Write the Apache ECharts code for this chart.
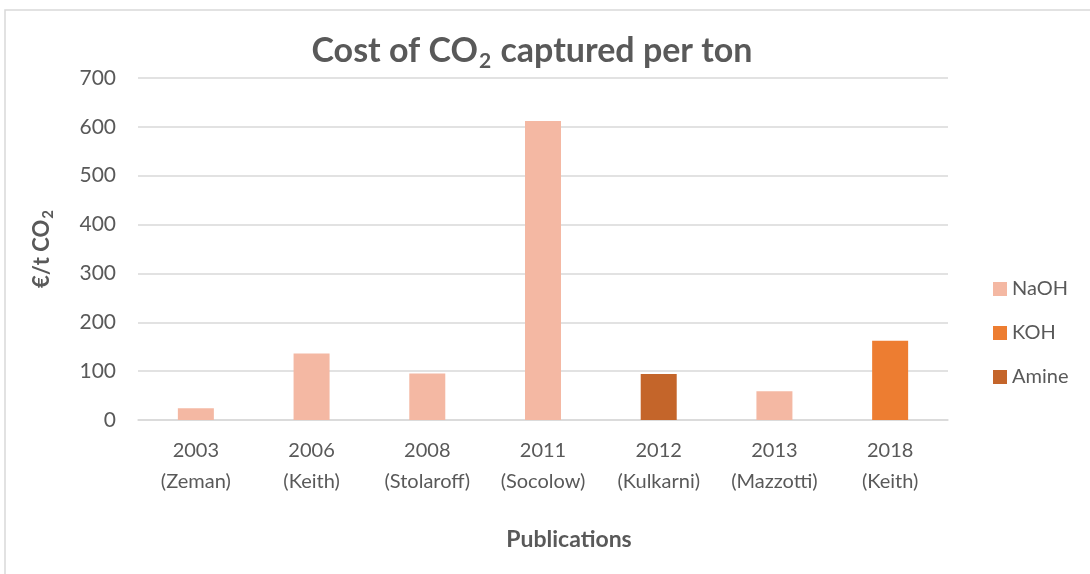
<!DOCTYPE html>
<html>
<head>
<meta charset="utf-8">
<script src="https://cdn.jsdelivr.net/npm/echarts@6/dist/echarts.min.js"></script>
<style>
  html, body { margin: 0; padding: 0; background: #ffffff; }
  #chart { width: 1090px; height: 574px; }
</style>
</head>
<body>
<div id="chart"></div>
<script>
// Publications (year + author) on the category axis
const categories = [
  '2003\n(Zeman)', '2006\n(Keith)', '2008\n(Stolaroff)', '2011\n(Socolow)',
  '2012\n(Kulkarni)', '2013\n(Mazzotti)', '2018\n(Keith)'
];
// Capture cost in €/t CO2, split by sorbent
const naohValues  = [24, 136, 95, 612, null, 59, null];
const kohValues   = [null, null, null, null, null, null, 162];
const amineValues = [null, null, null, null, 94, null, null];
const yTicks = { min: 0, max: 700, interval: 100 };

const textColor = '#595959';
const font = 'Lato, "Open Sans", sans-serif';

const chart = echarts.init(document.getElementById('chart'), null, { renderer: 'canvas' });

function barSeries(name, data, color) {
  return {
    name: name,
    type: 'bar',
    stack: 'cost',
    data: data,
    barWidth: 36,
    itemStyle: { color: color },
    emphasis: { disabled: true }
  };
}

chart.setOption({
  animation: false,
  backgroundColor: '#ffffff',
  textStyle: { fontFamily: font, color: textColor },
  graphic: [{
    type: 'rect',
    shape: { x: 5, y: 10, width: 1100, height: 580 },
    style: { fill: 'none', stroke: '#d9d9d9', lineWidth: 1.5 },
    silent: true
  }],
  title: {
    text: '{t|Cost of CO}{s|2}{t| captured per ton}',
    left: 527,
    top: 26,
    textAlign: 'center',
    textStyle: {
      rich: {
        t: { fontFamily: font, fontSize: 34, fontWeight: 'bold', color: textColor, lineHeight: 40 },
        s: { fontFamily: font, fontSize: 21, fontWeight: 'bold', color: textColor, lineHeight: 40, padding: [20, 1, 0, 1] }
      }
    }
  },
  legend: {
    orient: 'vertical',
    left: 988,
    top: 274,
    itemWidth: 14,
    itemHeight: 14,
    itemGap: 24,
    icon: 'rect',
    textStyle: { fontFamily: font, fontSize: 20, color: textColor },
    data: ['NaOH', 'KOH', 'Amine']
  },
  grid: { left: 138, right: 142, top: 78, bottom: 154, containLabel: false },
  xAxis: {
    type: 'category',
    data: categories,
    name: 'Publications',
    nameLocation: 'middle',
    nameGap: 108,
    nameTextStyle: { fontFamily: font, fontSize: 23, fontWeight: 'bold', color: textColor, padding: [0, 0, 0, 52] },
    axisLine: { lineStyle: { color: '#d9d9d9', width: 1.5 } },
    axisTick: { show: false },
    axisLabel: { interval: 0, hideOverlap: false, fontFamily: font, fontSize: 20, color: textColor, lineHeight: 31, margin: 15 }
  },
  yAxis: {
    type: 'value',
    min: yTicks.min,
    max: yTicks.max,
    interval: yTicks.interval,
    name: '{t|€/t CO}{s|2}',
    nameLocation: 'middle',
    nameRotate: 90,
    nameGap: 82,
    nameTextStyle: {
      rich: {
        t: { fontFamily: font, fontSize: 22, fontWeight: 'bold', color: textColor, lineHeight: 28 },
        s: { fontFamily: font, fontSize: 15, fontWeight: 'bold', color: textColor, lineHeight: 28, padding: [12, 0, 0, 1] }
      }
    },
    axisLine: { show: false },
    axisTick: { show: false },
    splitLine: { lineStyle: { color: '#d9d9d9', width: 1.5 } },
    axisLabel: { fontFamily: font, fontSize: 21, color: textColor, margin: 22 }
  },
  series: [
    barSeries('NaOH', naohValues, '#F4B8A3'),
    barSeries('KOH', kohValues, '#ED7D31'),
    barSeries('Amine', amineValues, '#C4652A')
  ]
});
</script>
</body>
</html>
